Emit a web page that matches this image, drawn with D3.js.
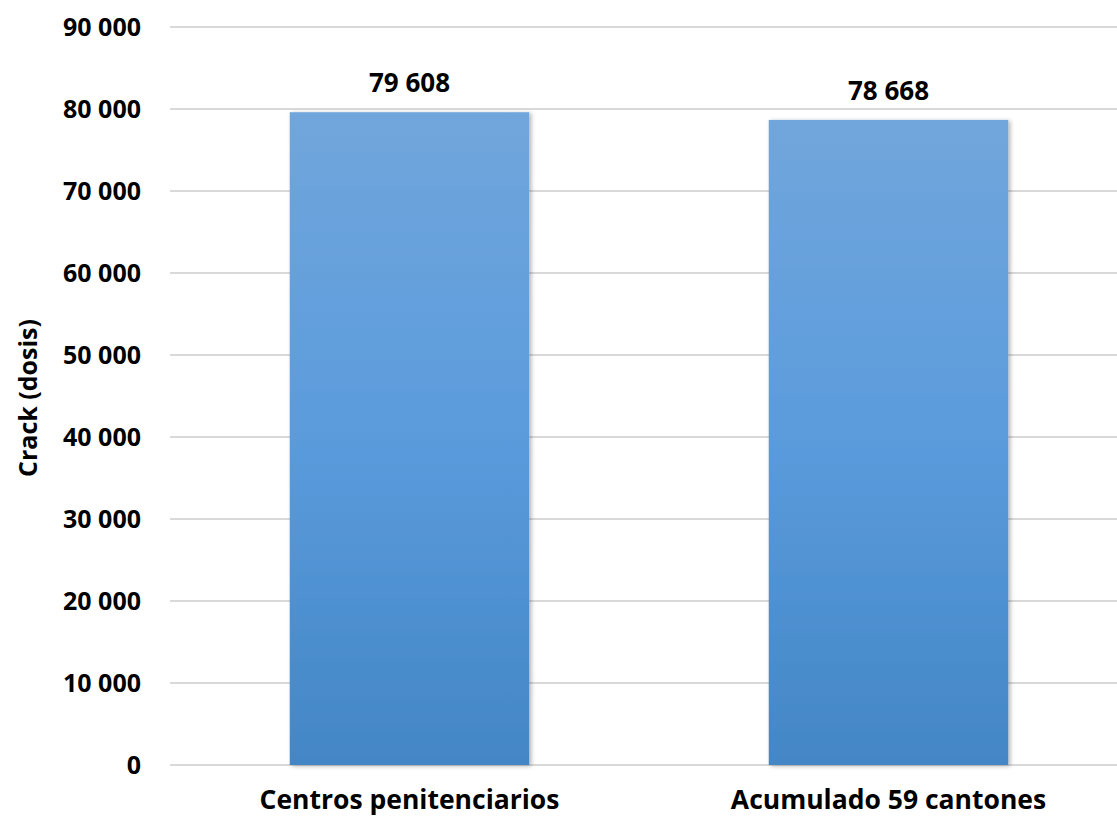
<!DOCTYPE html>
<html>
<head>
<meta charset="utf-8">
<script src="https://cdn.jsdelivr.net/npm/d3@7"></script>
<style>
  body { margin: 0; background: #fff; }
  text { font-family: "Open Sans", "Noto Sans", sans-serif; font-weight: bold; fill: #000; }
</style>
</head>
<body>
<svg id="chart" width="1117" height="819"></svg>
<script>
// chart data
const categories = ['Centros penitenciarios', 'Acumulado 59 cantones'];
const values = [79608, 78668];
const yTicks = [0, 10000, 20000, 30000, 40000, 50000, 60000, 70000, 80000, 90000];

const svg = d3.select('#chart');
const margin = { top: 27, right: -11, bottom: 54, left: 170 };
const width = 1117 - margin.left - margin.right;
const height = 819 - margin.top - margin.bottom;

const fmt = v => d3.format(',')(v).replace(/,/g, ' ');

const defs = svg.append('defs');
const grad = defs.append('linearGradient')
    .attr('id', 'barGrad')
    .attr('x1', 0).attr('y1', 0).attr('x2', 0).attr('y2', 1);
grad.append('stop').attr('offset', '0%').attr('stop-color', '#71a6dc');
grad.append('stop').attr('offset', '50%').attr('stop-color', '#5a9bdc');
grad.append('stop').attr('offset', '100%').attr('stop-color', '#4386c6');

const shadow = defs.append('filter').attr('id', 'shadow')
    .attr('x', '-5%').attr('y', '-5%').attr('width', '115%').attr('height', '110%');
shadow.append('feDropShadow')
    .attr('dx', 2).attr('dy', 1).attr('stdDeviation', 2)
    .attr('flood-color', '#000').attr('flood-opacity', 0.3);

const x = d3.scaleBand()
    .domain(categories)
    .range([0, width])
    .paddingInner(0.5)
    .paddingOuter(0.25);

const y = d3.scaleLinear()
    .domain([0, 90000])
    .range([height, 0]);

const chart = svg.append('g')
    .attr('transform', `translate(${margin.left},${margin.top})`);

// gridlines
chart.append('g')
    .selectAll('line')
    .data(yTicks)
    .enter().append('line')
    .attr('x1', 0)
    .attr('x2', 1117 - margin.left)
    .attr('y1', d => y(d))
    .attr('y2', d => y(d))
    .attr('stroke', '#d9d9d9')
    .attr('stroke-width', 2);

// y axis labels
const yAxis = d3.axisLeft(y).tickValues(yTicks).tickFormat(fmt).tickSize(0).tickPadding(29);
chart.append('g')
    .call(yAxis)
    .call(g => g.select('.domain').remove())
    .selectAll('text')
    .attr('font-size', 25)
    .attr('dy', '0.35em');

// bars
chart.selectAll('.bar')
    .data(values)
    .enter().append('rect')
    .attr('class', 'bar')
    .attr('x', (d, i) => x(categories[i]))
    .attr('y', d => y(d))
    .attr('width', x.bandwidth())
    .attr('height', d => height - y(d))
    .attr('fill', 'url(#barGrad)')
    .attr('filter', 'url(#shadow)');

// value labels
chart.selectAll('.label')
    .data(values)
    .enter().append('text')
    .attr('class', 'label')
    .attr('x', (d, i) => x(categories[i]) + x.bandwidth() / 2)
    .attr('y', d => y(d) - 20)
    .attr('text-anchor', 'middle')
    .attr('font-size', 26)
    .text(d => fmt(d));

// x axis labels
const xAxis = d3.axisBottom(x).tickSize(0).tickPadding(25);
chart.append('g')
    .attr('transform', `translate(0,${height})`)
    .call(xAxis)
    .call(g => g.select('.domain').remove())
    .selectAll('text')
    .attr('font-size', 26.5);

// y title
svg.append('text')
    .attr('transform', `translate(37,${margin.top + height / 2 + 2}) rotate(-90)`)
    .attr('text-anchor', 'middle')
    .attr('font-size', 25)
    .text('Crack (dosis)');
</script>
</body>
</html>
